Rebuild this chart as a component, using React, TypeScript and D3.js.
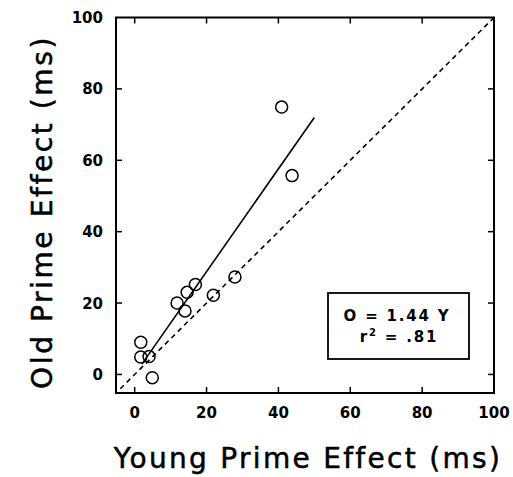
import React from "react";
import * as d3 from "d3";

const youngEffect = [1.7, 1.7, 4.0, 4.9, 11.8, 14.0, 14.6, 16.9, 21.9, 27.9, 40.9, 43.8];
const oldEffect = [9.0, 4.9, 5.0, -0.9, 20.0, 17.8, 23.0, 25.2, 22.2, 27.3, 74.9, 55.7];
const xTicks = [0, 20, 40, 60, 80, 100];
const yTicks = [0, 20, 40, 60, 80, 100];
const fitSlope = 1.44;
const fitRange = [2, 50];
const identityRange = [-4, 100];
const legendLines = ["O = 1.44 Y", "r", " = .81"];

export default function App() {
  const W = 513, H = 477;
  const left = 116, right = 494, top = 17.5, bottom = 393;
  const x = d3.scaleLinear().domain([-5.2, 100]).range([left, right]);
  const y = d3.scaleLinear().domain([-5.2, 100]).range([bottom, top]);
  const line = d3.line<[number, number]>().x(d => x(d[0])).y(d => y(d[1]));
  const fit: [number, number][] = fitRange.map(v => [v, v * fitSlope]);
  const ident: [number, number][] = identityRange.map(v => [v, v]);
  const font = "'DejaVu Sans', Verdana, sans-serif";
  const tl = 6;
  return (
    <svg width={W} height={H} style={{ position: "absolute", left: 0, top: 0 }}>
      <rect width={W} height={H} fill="#fff" />
      <rect x={left} y={top} width={right - left} height={bottom - top} fill="none" stroke="#000" strokeWidth={2} />
      {xTicks.filter(t => t < 100).map(t => (
        <g key={"xt" + t}>
          <line x1={x(t)} x2={x(t)} y1={bottom} y2={bottom - tl} stroke="#000" strokeWidth={1.5} />
          <line x1={x(t)} x2={x(t)} y1={top} y2={top + tl} stroke="#000" strokeWidth={1.5} />
        </g>
      ))}
      {yTicks.filter(t => t < 100).map(t => (
        <g key={"yt" + t}>
          <line x1={left} x2={left + tl} y1={y(t)} y2={y(t)} stroke="#000" strokeWidth={1.5} />
          <line x1={right} x2={right - tl} y1={y(t)} y2={y(t)} stroke="#000" strokeWidth={1.5} />
        </g>
      ))}
      {xTicks.map(t => (
        <text key={"xl" + t} x={x(t)} y={418} textAnchor="middle" fontFamily={font} fontWeight="bold" fontSize={15}>{t}</text>
      ))}
      {yTicks.map(t => (
        <text key={"yl" + t} x={103} y={y(t) + 5.5} textAnchor="end" fontFamily={font} fontWeight="bold" fontSize={15}>{t}</text>
      ))}
      <path d={line(ident) || ""} fill="none" stroke="#000" strokeWidth={1.6} strokeDasharray="5,4" />
      <path d={line(fit) || ""} fill="none" stroke="#000" strokeWidth={1.6} />
      {youngEffect.map((v, i) => (
        <circle key={"p" + i} cx={x(v)} cy={y(oldEffect[i])} r={6} fill="none" stroke="#000" strokeWidth={1.5} />
      ))}
      <rect x={328} y={293} width={141} height={66} fill="#fff" stroke="#000" strokeWidth={1.8} />
      <text x={397} y={321} textAnchor="middle" fontFamily={font} fontWeight="bold" fontSize={15} letterSpacing={1.8}>{legendLines[0]}</text>
      <text x={399} y={342} textAnchor="middle" fontFamily={font} fontWeight="bold" fontSize={15} letterSpacing={1.8}>
        {legendLines[1]}
        <tspan dy={-6} fontSize={10}>2</tspan>
        <tspan dy={6}>{legendLines[2]}</tspan>
      </text>
      <text x={308} y={468} textAnchor="middle" fontFamily={font} fontSize={28} letterSpacing={2.3} stroke="#000" strokeWidth={0.5}>Young Prime Effect (ms)</text>
      <text transform={`translate(52,212) rotate(-90)`} textAnchor="middle" fontFamily={font} fontSize={28} letterSpacing={2.6} stroke="#000" strokeWidth={0.5}>Old Prime Effect (ms)</text>
    </svg>
  );
}
